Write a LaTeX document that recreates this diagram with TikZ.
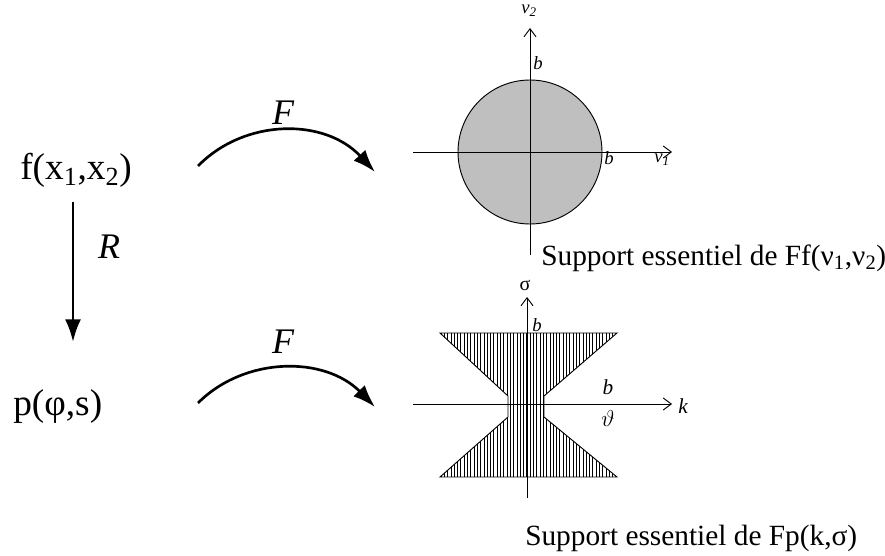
\documentclass[tikz,border=0pt]{standalone}
\usepackage{fontspec}
\setmainfont{Liberation Serif}
\usetikzlibrary{arrows.meta}

\begin{document}
\begin{tikzpicture}[x=0.75pt,y=-0.75pt]
    % Define styles
    \tikzstyle{bigtext} = [inner sep=0pt, anchor=base west, font=\fontsize{28}{30}\selectfont]
    \tikzstyle{maplabel} = [inner sep=0pt, font=\fontsize{27}{30}\selectfont\itshape]
    \tikzstyle{caption} = [inner sep=0pt, anchor=base west, font=\fontsize{22}{24}\selectfont]
    \tikzstyle{axlabel} = [inner sep=0pt, font=\fontsize{14}{16}\selectfont\itshape]
    \tikzstyle{axis} = [line width=0.7pt, -{Straight Barb[length=6pt,width=9pt]}]
    \tikzstyle{maparrow} = [line width=2pt, -{Latex[length=17pt,width=12pt]}]
    \tikzstyle{edge} = [line width=0.7pt]

    \useasboundingbox (0,0) rectangle (885,556);

    % Functions on the left
    \node[bigtext] (fx) at (20,180) {f(x\textsubscript{1},x\textsubscript{2})};
    \node[bigtext] (ps) at (13,415) {p(φ,s)};

    % Radon transform
    \coordinate (r1) at (73,202);
    \coordinate (r2) at (73,342);
    \draw[maparrow] (r1) -- (r2);
    \node[maplabel] (rlab) at (109,247) {R};

    % Fourier transforms
    \coordinate (fa1) at (198,166);
    \coordinate (fa2) at (375,172);
    \draw[maparrow] (fa1) .. controls (245,118) and (325,118) .. (fa2);
    \node[maplabel] (falab) at (283,113) {F};

    \coordinate (fb1) at (198,403);
    \coordinate (fb2) at (375,407);
    \draw[maparrow] (fb1) .. controls (245,356) and (325,356) .. (fb2);
    \node[maplabel] (fblab) at (283,342) {F};

    % Support of Ff
    \draw[edge, fill=black!25] (530,152) circle (72);
    \coordinate (ax1) at (413,152);
    \coordinate (ax2) at (672,152);
    \coordinate (ay1) at (530,255);
    \coordinate (ay2) at (530,28);
    \draw[axis] (ax1) -- (ax2);
    \draw[axis] (ay1) -- (ay2);
    \node[axlabel] (nu2) at (529,11) {ν\textsubscript{2}};
    \node[axlabel] (nu1) at (662,160) {ν\textsubscript{1}};
    \node[axlabel] (b1) at (538,63) {b};
    \node[axlabel] (b2) at (609,158) {b};
    \node[caption] (capf) at (541,265) {Support essentiel de Ff(ν\textsubscript{1},ν\textsubscript{2})};

    % Support of Fp
    \begin{scope}
        \clip (440,333) -- (617,333) -- (544,396) -- (544,417) -- (617,477)
            -- (440,477) -- (508,417) -- (508,396) -- cycle;
        \foreach \x in {441,444.3,...,617}
            \draw[line width=0.5pt] (\x,333) -- (\x,477);
    \end{scope}
    \draw[edge] (440,333) -- (617,333) -- (544,396) -- (544,417) -- (617,477)
        -- (440,477) -- (508,417) -- (508,396) -- cycle;
    \coordinate (bx1) at (413,404);
    \coordinate (bx2) at (672,404);
    \coordinate (by1) at (527,498);
    \coordinate (by2) at (527,297);
    \draw[axis] (bx1) -- (bx2);
    \draw[axis] (by1) -- (by2);
    \node[axlabel, font=\fontsize{15}{16}\selectfont] (sig) at (525,285) {σ};
    \node[axlabel, font=\fontsize{16}{18}\selectfont\itshape] (klab) at (683,406) {k};
    \node[axlabel] (b3) at (537,325) {b};
    \node[axlabel, font=\fontsize{16}{18}\selectfont\itshape] (frac) at (608,403) {$\displaystyle\frac{\textit{b}}{\vartheta}$};
    \node[caption] (capp) at (525,545) {Support essentiel de Fp(k,σ)};

\end{tikzpicture}
\end{document}
